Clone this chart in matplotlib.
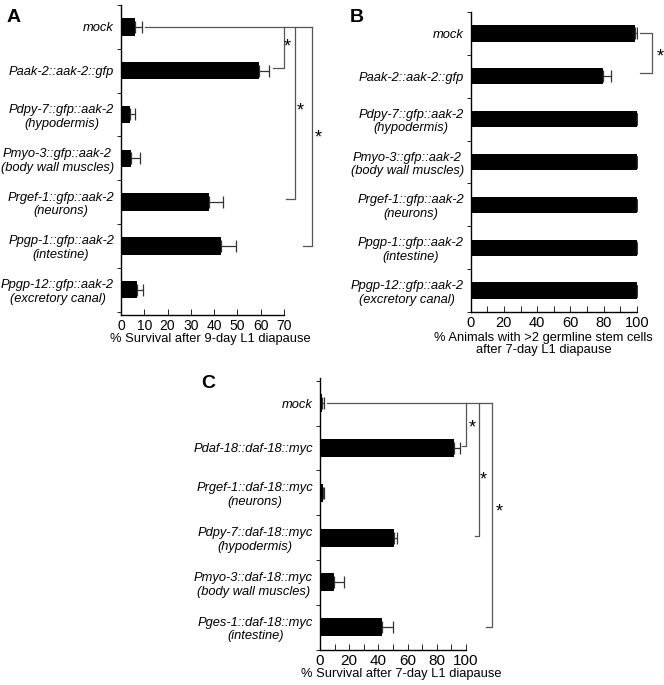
import matplotlib
matplotlib.use("Agg")
import matplotlib.pyplot as plt
from matplotlib.ticker import MultipleLocator

plt.rcParams["font.family"] = ["Liberation Sans", "DejaVu Sans"]

# Panel A: survival after 9-day L1 diapause
a_labels = [
    "mock",
    "Paak-2::aak-2::gfp",
    "Pdpy-7::gfp::aak-2\n(hypodermis)",
    "Pmyo-3::gfp::aak-2\n(body wall muscles)",
    "Prgef-1::gfp::aak-2\n(neurons)",
    "Ppgp-1::gfp::aak-2\n(intestine)",
    "Ppgp-12::gfp::aak-2\n(excretory canal)",
]
a_values = [6.2, 59.2, 3.9, 4.2, 37.9, 43.0, 6.9]
a_errors = [2.7, 4.3, 2.1, 4.0, 5.8, 6.6, 2.4]

# Panel B: % animals with >2 germline stem cells
b_labels = a_labels
b_values = [99.2, 79.5, 100, 100, 100, 100, 100]
b_errors = [1.0, 5.0, 0, 0, 0, 0, 0]

# Panel C: survival after 7-day L1 diapause
c_labels = [
    "mock",
    "Pdaf-18::daf-18::myc",
    "Prgef-1::daf-18::myc\n(neurons)",
    "Pdpy-7::daf-18::myc\n(hypodermis)",
    "Pmyo-3::daf-18::myc\n(body wall muscles)",
    "Pges-1::daf-18::myc\n(intestine)",
]
c_values = [1.4, 92.0, 1.8, 50.5, 9.6, 42.5]
c_errors = [1.3, 4.0, 1.0, 2.5, 6.8, 7.3]

FS = 9.3
GRAY = "#555555"

fig = plt.figure(figsize=(6.64, 6.85), dpi=100)


def bar_panel(rect, labels, values, errors, xmax, major, minor, ylim, height,
              tick_fs):
    ax = fig.add_axes(rect)
    n = len(labels)
    ypos = list(range(n))
    ax.barh(ypos, values, height=height, color="black", zorder=2)
    ax.errorbar(values, ypos, xerr=[[0] * n, errors], fmt="none",
                ecolor="#333333", elinewidth=0.9, capsize=4.5, capthick=0.9,
                zorder=3)
    ax.set_xlim(0, xmax)
    ax.set_ylim(*ylim)
    ax.set_yticks(ypos)
    ax.set_yticklabels(labels, fontsize=FS, style="italic")
    for lab in ax.get_yticklabels():
        lab.set_multialignment("center")
    ax.set_yticks([i - 0.5 for i in range(n + 1)], minor=True)
    ax.tick_params(axis="y", which="major", length=0, pad=5)
    ax.tick_params(axis="y", which="minor", length=3, direction="out", width=0.6)
    ax.xaxis.set_major_locator(MultipleLocator(major))
    if minor:
        ax.xaxis.set_minor_locator(MultipleLocator(minor))
    ax.tick_params(axis="x", which="both", direction="in", length=4,
                   width=0.6, labelsize=tick_fs, pad=3)
    for s in ["top", "right"]:
        ax.spines[s].set_visible(False)
    for s in ["left", "bottom"]:
        ax.spines[s].set_linewidth(1.0)
    return ax


def bracket(ax, x, y0, y1, back):
    ax.plot([x, x, back], [y0, y1, y1], color=GRAY, lw=0.9,
            clip_on=False, zorder=1)


# ---- A ----
axA = bar_panel([0.1822, 0.5401, 0.2455, 0.4526], a_labels, a_values,
                a_errors, 70, 10, None, (6.58, -0.45), 0.4, 10)
axA.set_xlabel("% Survival after 9-day L1 diapause", fontsize=FS)
axA.xaxis.set_label_coords(0.545, -0.058)
axA.plot([a_values[0] + a_errors[0] + 1.4, 82], [0, 0], color=GRAY, lw=0.9,
         clip_on=False, zorder=1)
bracket(axA, 70, 0, 0.93, 65.3)
bracket(axA, 74.7, 0, 3.92, 70.8)
bracket(axA, 82, 0, 5.01, 78.1)
for x, y in [(71.2, 0.45), (76.9, 1.93), (84.6, 2.53)]:
    axA.text(x, y, "*", fontsize=13, ha="center", va="center", clip_on=False)

# ---- B ----
axB = bar_panel([0.7089, 0.5445, 0.25, 0.438], b_labels, b_values,
                b_errors, 100, 20, 10, (6.35, -0.29), 0.38, 10.5)
axB.set_xlabel("% Animals with >2 germline stem cells\nafter 7-day L1 diapause",
               fontsize=FS, linespacing=1.1)
axB.xaxis.set_label_coords(0.44, -0.065)
axB.plot([102, 109.2, 109.2, 102], [0, 0, 0.93, 0.93], color=GRAY, lw=0.9,
         clip_on=False, zorder=1)
axB.text(114, 0.55, "*", fontsize=13, ha="center", va="center", clip_on=False)

# ---- C ----
axC = bar_panel([0.4819, 0.0511, 0.2199, 0.397], c_labels, c_values,
                c_errors, 100, 20, 10, (5.51, -0.56), 0.4, 11)
axC.set_xlabel("% Survival after 7-day L1 diapause", fontsize=FS)
axC.xaxis.set_label_coords(0.555, -0.065)
axC.plot([c_values[0] + c_errors[0] + 2.2, 117.6], [0, 0], color=GRAY, lw=0.9,
         clip_on=False, zorder=1)
bracket(axC, 100, 0, 0.96, 97.3)
bracket(axC, 108.9, 0, 2.96, 106)
bracket(axC, 117.6, 0, 5.0, 114)
for x, y in [(104, 0.56), (112, 1.72), (122.6, 2.42)]:
    axC.text(x, y, "*", fontsize=13, ha="center", va="center", clip_on=False)

# panel letters
fig.text(14 / 664, 1 - 17 / 685, "A", fontsize=14, fontweight="bold",
         ha="center", va="center")
fig.text(357 / 664, 1 - 17 / 685, "B", fontsize=14, fontweight="bold",
         ha="center", va="center")
fig.text(208 / 664, 1 - 383 / 685, "C", fontsize=14, fontweight="bold",
         ha="center", va="center")

fig.savefig("out.png", dpi=100)
